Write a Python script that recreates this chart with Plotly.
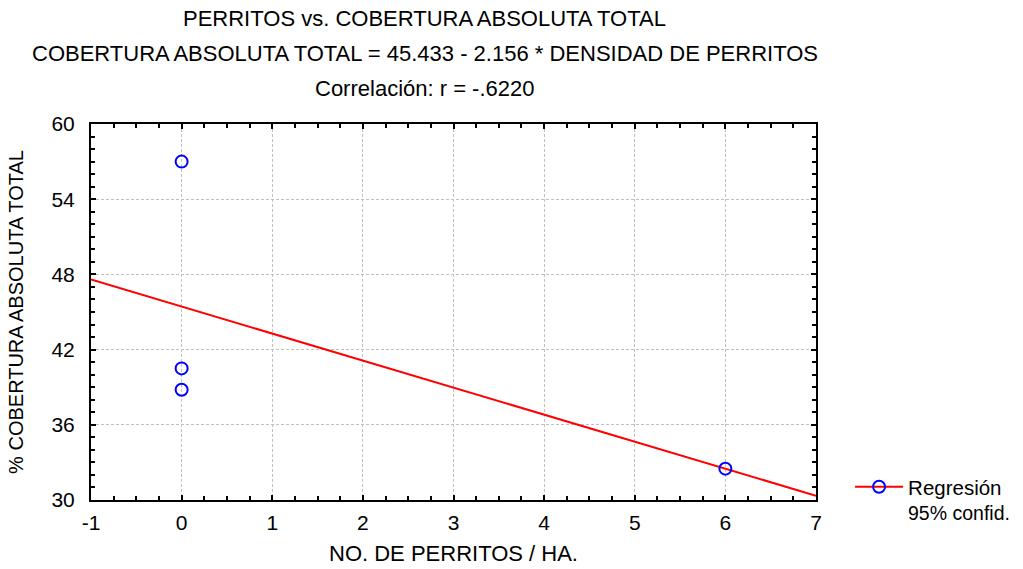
import numpy as np
import plotly.graph_objects as go

# Data
densidad_perritos = [0, 0, 0, 6]
cobertura_total = [57.0, 40.5, 38.8, 32.5]
x_ticks = [-1, 0, 1, 2, 3, 4, 5, 6, 7]
y_ticks = [30, 36, 42, 48, 54, 60]
line_x_range = [-1, 7]

title_lines = [
    "PERRITOS vs. COBERTURA ABSOLUTA TOTAL",
    "COBERTURA ABSOLUTA TOTAL = 45.433 - 2.156 * DENSIDAD DE PERRITOS",
    "Correlación: r = -.6220",
]
legend_names = ["Regresión", "95% confid."]

slope, intercept = np.polyfit(densidad_perritos, cobertura_total, 1)
lx = np.array(line_x_range, dtype=float)
ly = intercept + slope * lx

FONT = "Liberation Sans, Arial, sans-serif"

fig = go.Figure()
fig.add_trace(go.Scatter(x=lx, y=ly, mode="lines",
                         line=dict(color="#ff0000", width=2), showlegend=False,
                         hoverinfo="skip"))
fig.add_trace(go.Scatter(x=densidad_perritos, y=cobertura_total, mode="markers",
                         marker=dict(symbol="circle-open", size=12, color="#0000ff",
                                     line=dict(width=2, color="#0000ff")),
                         showlegend=False))
# legend entry
fig.add_trace(go.Scatter(x=[None], y=[None], mode="lines+markers", name=legend_names[0],
                         line=dict(color="#ff0000", width=2),
                         marker=dict(symbol="circle-open", size=12, color="#0000ff",
                                     line=dict(width=2, color="#0000ff"))))

axis_common = dict(
    showline=True, linecolor="black", linewidth=2, mirror="allticks",
    ticks="inside", ticklen=5, tickwidth=2, tickcolor="black",
    showgrid=True, gridcolor="#c0c0c0", griddash="3px,2px", gridwidth=1,
    zeroline=False, automargin=False,
    tickfont=dict(family=FONT, size=21, color="black"),
)

fig.update_xaxes(range=[-1, 7], tickmode="array", tickvals=x_ticks,
                 ticktext=[str(v) for v in x_ticks],
                 minor=dict(dtick=0.25, tick0=-1, ticks="inside", ticklen=4, tickwidth=2,
                            tickcolor="black", showgrid=False),
                 title=dict(text="NO. DE PERRITOS / HA.", standoff=12,
                            font=dict(family=FONT, size=22, color="black")),
                 ticklabelstandoff=3,
                 **axis_common)
fig.update_yaxes(range=[30, 60], tickmode="array", tickvals=y_ticks,
                 ticktext=[str(v) for v in y_ticks],
                 minor=dict(dtick=1, tick0=30, ticks="inside", ticklen=4, tickwidth=2,
                            tickcolor="black", showgrid=False),
                 title=dict(text="% COBERTURA ABSOLUTA TOTAL", standoff=22,
                            font=dict(family=FONT, size=20, color="black")),
                 ticklabelstandoff=10,
                 **axis_common)

for i, t in enumerate(title_lines):
    fig.add_annotation(text=t, xref="paper", yref="paper", x=0.46, y=1,
                       yshift=124 - 18 - 35 * i, showarrow=False,
                       xanchor="center", yanchor="middle",
                       font=dict(family=FONT, size=22, color="black"))

# second legend line (confidence band label, no symbol)
fig.add_annotation(text=legend_names[1], xref="paper", yref="paper",
                   x=(906 - 91) / 725, y=0, yshift=500 - 513,
                   xanchor="left", yanchor="middle", showarrow=False,
                   font=dict(family=FONT, size=19.5, color="black"))

fig.update_layout(
    width=1023, height=569,
    margin=dict(l=91, r=207, t=124, b=69, autoexpand=False),
    paper_bgcolor="white", plot_bgcolor="white",
    font=dict(family=FONT, size=22, color="black"),
    legend=dict(x=1.047, y=0.088, xanchor="left", yanchor="top",
                bgcolor="rgba(0,0,0,0)", font=dict(family=FONT, size=20.5),
                tracegroupgap=0, itemwidth=48),
)

fig.write_html("out.html")
